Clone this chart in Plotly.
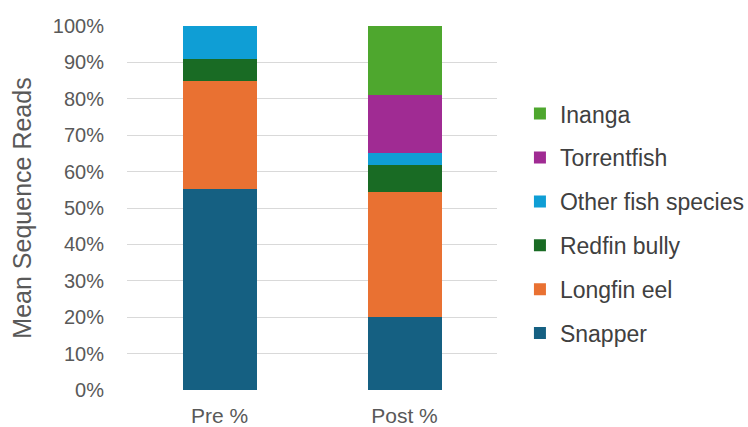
import plotly.graph_objects as go

categories = ["Pre %", "Post %"]
species = ["Snapper", "Longfin eel", "Redfin bully", "Other fish species", "Torrentfish", "Inanga"]
snapper = [55.2, 20.0]
longfin_eel = [29.8, 34.5]
redfin_bully = [5.9, 7.2]
other_fish = [9.1, 3.3]
torrentfish = [0.0, 16.0]
inanga = [0.0, 19.0]
values = [snapper, longfin_eel, redfin_bully, other_fish, torrentfish, inanga]
colors = ["#156082", "#E97132", "#196B24", "#0F9ED5", "#A02B93", "#4EA72E"]
yticks = [0, 10, 20, 30, 40, 50, 60, 70, 80, 90, 100]

FONT = "Liberation Sans, Arial, sans-serif"

fig = go.Figure()
n = len(species)
for i, (name, vals, col) in enumerate(zip(species, values, colors)):
    fig.add_trace(go.Bar(
        x=categories, y=vals, name=name, legendgroup=name,
        legendrank=n - i,
        marker=dict(color=col, line=dict(width=0)),
    ))

fig.update_layout(
    width=748, height=427,
    margin=dict(l=127, r=251, t=26, b=37, autoexpand=False),
    barmode="stack", bargap=0.6,
    plot_bgcolor="white", paper_bgcolor="white",
    font=dict(family=FONT, color="#404040"),
    showlegend=True,
    legend=dict(
        x=1.062, xanchor="left", y=0.457, yanchor="middle",
        traceorder="grouped", tracegroupgap=11,
        font=dict(size=23, color="#404040", family=FONT),
        itemwidth=30, bgcolor="rgba(0,0,0,0)",
    ),
    yaxis=dict(
        range=[0, 100], tickvals=yticks,
        ticktext=[f"{v}%" for v in yticks],
        showgrid=True, gridcolor="#d9d9d9", gridwidth=1,
        zeroline=False, showline=False, automargin=False,
        tickfont=dict(size=20, color="#595959", family=FONT),
        ticklabelstandoff=22,
        title=dict(text="Mean Sequence Reads", font=dict(size=25, color="#595959", family=FONT), standoff=14),
    ),
    xaxis=dict(
        showgrid=False, zeroline=False, showline=False, automargin=False,
        tickfont=dict(size=21, color="#595959", family=FONT),
        ticklabelstandoff=11,
    ),
)

fig.write_html("out.html")
